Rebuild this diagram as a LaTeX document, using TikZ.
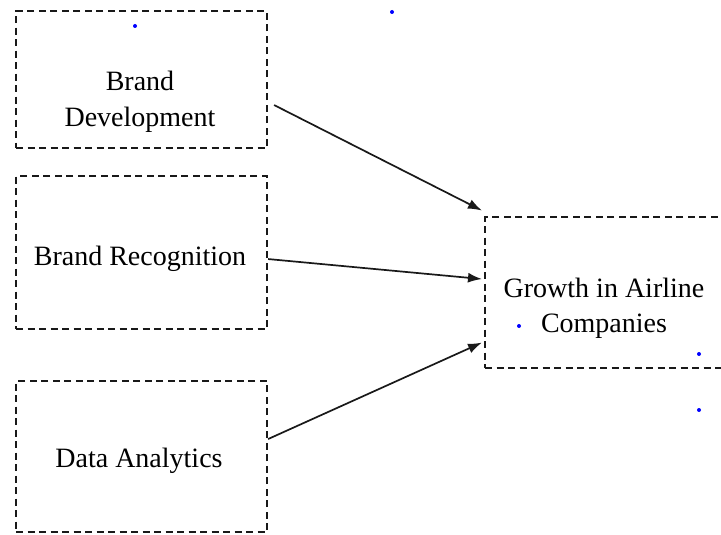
\documentclass[tikz,border=0pt]{standalone}
\usepackage{fontspec}
\setmainfont{Liberation Serif}
\usetikzlibrary{arrows.meta}
\begin{document}
\begin{tikzpicture}[x=1pt,y=-1pt,
  factorbox/.style={draw=black!90, line width=2.1pt, dash pattern=on 7pt off 4.5pt,
    rectangle, inner sep=0pt, anchor=north west},
  label/.style={font=\fontsize{28}{33}\selectfont, anchor=base, inner sep=0pt, text=black},
  link/.style={draw=black!90, line width=1.7pt, -{Latex[length=14pt,width=10pt]}},
  speck/.style={fill=blue, draw=none}]
\useasboundingbox (0,0) rectangle (721,535);
\clip (0,0) rectangle (721,535);
\fill[white] (0,0) rectangle (721,535);

% factor boxes on the left
\node[factorbox, minimum width=251pt, minimum height=137pt] (dev) at (15,10) {};
\node[factorbox, minimum width=251pt, minimum height=153pt] (rec) at (15,175) {};
\node[factorbox, minimum width=251pt, minimum height=151pt] (ana) at (15,380) {};
% outcome box, running past the right edge
\node[factorbox, minimum width=242pt, minimum height=151pt] (gro) at (484,216) {};

% box texts
\node[label] (devA) at (140,91) {Brand};
\node[label] (devB) at (140,127) {Development};
\node[label] (recT) at (140,265) {Brand Recognition};
\node[label] (anaT) at (139,467) {Data Analytics};
\node[label] (groA) at (604,297) {Growth in Airline};
\node[label] (groB) at (604,332) {Companies};

% connectors into the outcome box
\draw[link] ([shift={(6,25.5)}]dev.east) -- ([shift={(-2,-82)}]gro.west);
\draw[link] ([shift={(0,6.5)}]rec.east) -- ([shift={(-2,-13.5)}]gro.west);
\draw[link] ([shift={(0,-17.5)}]ana.east) -- ([shift={(-2,50)}]gro.west);

% small blue marks
\foreach \p in {(135,26),(392,12),(519,326),(699,354),(699,410)}
  \fill[speck] \p circle (2pt);
\end{tikzpicture}
\end{document}
